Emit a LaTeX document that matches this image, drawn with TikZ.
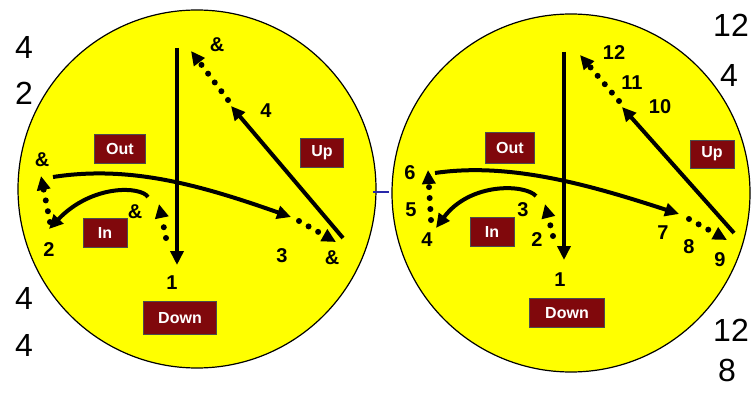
\documentclass[tikz,border=0pt]{standalone}
\usepackage{fontspec}
\setmainfont{Liberation Sans}
\usetikzlibrary{arrows.meta}
\definecolor{disc}{RGB}{255,255,0}
\definecolor{boxred}{RGB}{128,8,12}
\definecolor{blueline}{RGB}{40,40,170}
\begin{document}
\begin{tikzpicture}[x=1pt,y=-1pt,
  solidarrow/.style={line width=4pt,-{Triangle[length=14pt,width=13pt]}},
  dotarrow/.style={line width=6pt,line cap=round,dash pattern=on 0pt off 11pt,-{Triangle[length=14pt,width=13pt]}},
  movebox/.style={fill=boxred,draw=black!70,line width=0.8pt,text=white,font=\bfseries\fontsize{16}{16}\selectfont,minimum height=29pt,inner sep=1pt},
  count/.style={font=\bfseries\fontsize{20}{20}\selectfont,inner sep=0pt},
  side/.style={font=\fontsize{32}{32}\selectfont,inner sep=0pt},
  discstyle/.style={circle,draw=black,line width=1.2pt,fill=disc,minimum size=358pt,inner sep=0pt}]
\useasboundingbox (0,0) rectangle (754,393);
\fill[white] (0,0) rectangle (754,393);

% discs
\node[discstyle] (discL) at (197,189) {};
\node[discstyle] (discR) at (571,193) {};

% blue mark between the discs
\coordinate (bl1) at (373,192);
\coordinate (bl2) at (389,192);
\draw[blueline,line width=1.8pt] (bl1) -- (bl2);

% side numbers
\node[side] (sl1) at (24,47) {4};
\node[side] (sl2) at (24,93) {2};
\node[side] (sl3) at (24,298) {4};
\node[side] (sl4) at (24,345) {4};
\node[side] (sr1) at (731,25) {12};
\node[side] (sr2) at (729,75) {4};
\node[side] (sr3) at (731,330) {12};
\node[side] (sr4) at (727,370) {8};

% ===== left disc =====
\node[movebox,minimum width=51pt] (outL) at (120,149) {Out};
\node[movebox,minimum width=44pt] (inL) at (105,233) {In};
\node[movebox,minimum width=43pt] (upL) at (322,153) {Up};
\node[movebox,minimum width=73pt,minimum height=33pt] (downL) at (180,318) {Down};

\coordinate (Ld1) at (177,48);
\coordinate (Ld2) at (177,265);
\draw[solidarrow] (Ld1) -- (Ld2);

\coordinate (Lr1) at (166,238);
\coordinate (Lr2) at (159,204);
\draw[dotarrow] (Lr1) -- (Lr2);

\coordinate (Li1) at (148,197);
\coordinate (Li2) at (49,229);
\draw[solidarrow] (Li1) .. controls (141,186) and (92,184) .. (Li2);

\coordinate (Lp1) at (50,222);
\coordinate (Lp2) at (41,176);
\draw[dotarrow] (Lp1) -- (Lp2);

\coordinate (Lo1) at (53,177);
\coordinate (Lo2) at (291,217);
\draw[solidarrow] (Lo1) .. controls (130,165) and (200,185) .. (Lo2);

\coordinate (Lq1) at (299,221);
\coordinate (Lq2) at (336,242);
\draw[dotarrow] (Lq1) -- (Lq2);

\coordinate (Lu1) at (343,238);
\coordinate (Lu2) at (231,106);
\draw[solidarrow] (Lu1) -- (Lu2);

\coordinate (Lv1) at (228,100);
\coordinate (Lv2) at (191,51);
\draw[dotarrow] (Lv1) -- (Lv2);

\node[count] (cL1) at (172,283) {1};
\node[count] (cLa) at (135,212) {\&};
\node[count] (cL2) at (49,250) {2};
\node[count] (cLb) at (42,160) {\&};
\node[count] (cL3) at (282,256) {3};
\node[count] (cLc) at (332,258) {\&};
\node[count] (cL4) at (266,111) {4};
\node[count] (cLd) at (217,45) {\&};

% ===== right disc =====
\node[movebox,minimum width=49pt,minimum height=31pt] (outR) at (510,148) {Out};
\node[movebox,minimum width=44pt] (inR) at (492,232) {In};
\node[movebox,minimum width=44pt,minimum height=28pt] (upR) at (712,154) {Up};
\node[movebox,minimum width=75pt] (downR) at (567,313) {Down};

\coordinate (Rd1) at (564,52);
\coordinate (Rd2) at (564,260);
\draw[solidarrow] (Rd1) -- (Rd2);

\coordinate (Rr1) at (553,236);
\coordinate (Rr2) at (545,204);
\draw[dotarrow] (Rr1) -- (Rr2);

\coordinate (Ri1) at (536,196);
\coordinate (Ri2) at (436,228);
\draw[solidarrow] (Ri1) .. controls (525,184) and (470,182) .. (Ri2);

\coordinate (Rp1) at (431,220);
\coordinate (Rp2) at (428,170);
\draw[dotarrow] (Rp1) -- (Rp2);

\coordinate (Ro1) at (435,173);
\coordinate (Ro2) at (679,214);
\draw[solidarrow] (Ro1) .. controls (510,162) and (590,185) .. (Ro2);

\coordinate (Rq1) at (689,219);
\coordinate (Rq2) at (727,240);
\draw[dotarrow] (Rq1) -- (Rq2);

\coordinate (Ru1) at (734,233);
\coordinate (Ru2) at (622,107);
\draw[solidarrow] (Ru1) -- (Ru2);

\coordinate (Rv1) at (619,101);
\coordinate (Rv2) at (580,55);
\draw[dotarrow] (Rv1) -- (Rv2);

\node[count] (cR1) at (560,280) {1};
\node[count] (cR2) at (537,240) {2};
\node[count] (cR3) at (523,210) {3};
\node[count] (cR4) at (427,240) {4};
\node[count] (cR5) at (411,210) {5};
\node[count] (cR6) at (410,173) {6};
\node[count] (cR7) at (663,233) {7};
\node[count] (cR8) at (689,247) {8};
\node[count] (cR9) at (720,260) {9};
\node[count] (cR10) at (660,107) {10};
\node[count] (cR11) at (632,83) {11};
\node[count] (cR12) at (614,53) {12};
\end{tikzpicture}
\end{document}
